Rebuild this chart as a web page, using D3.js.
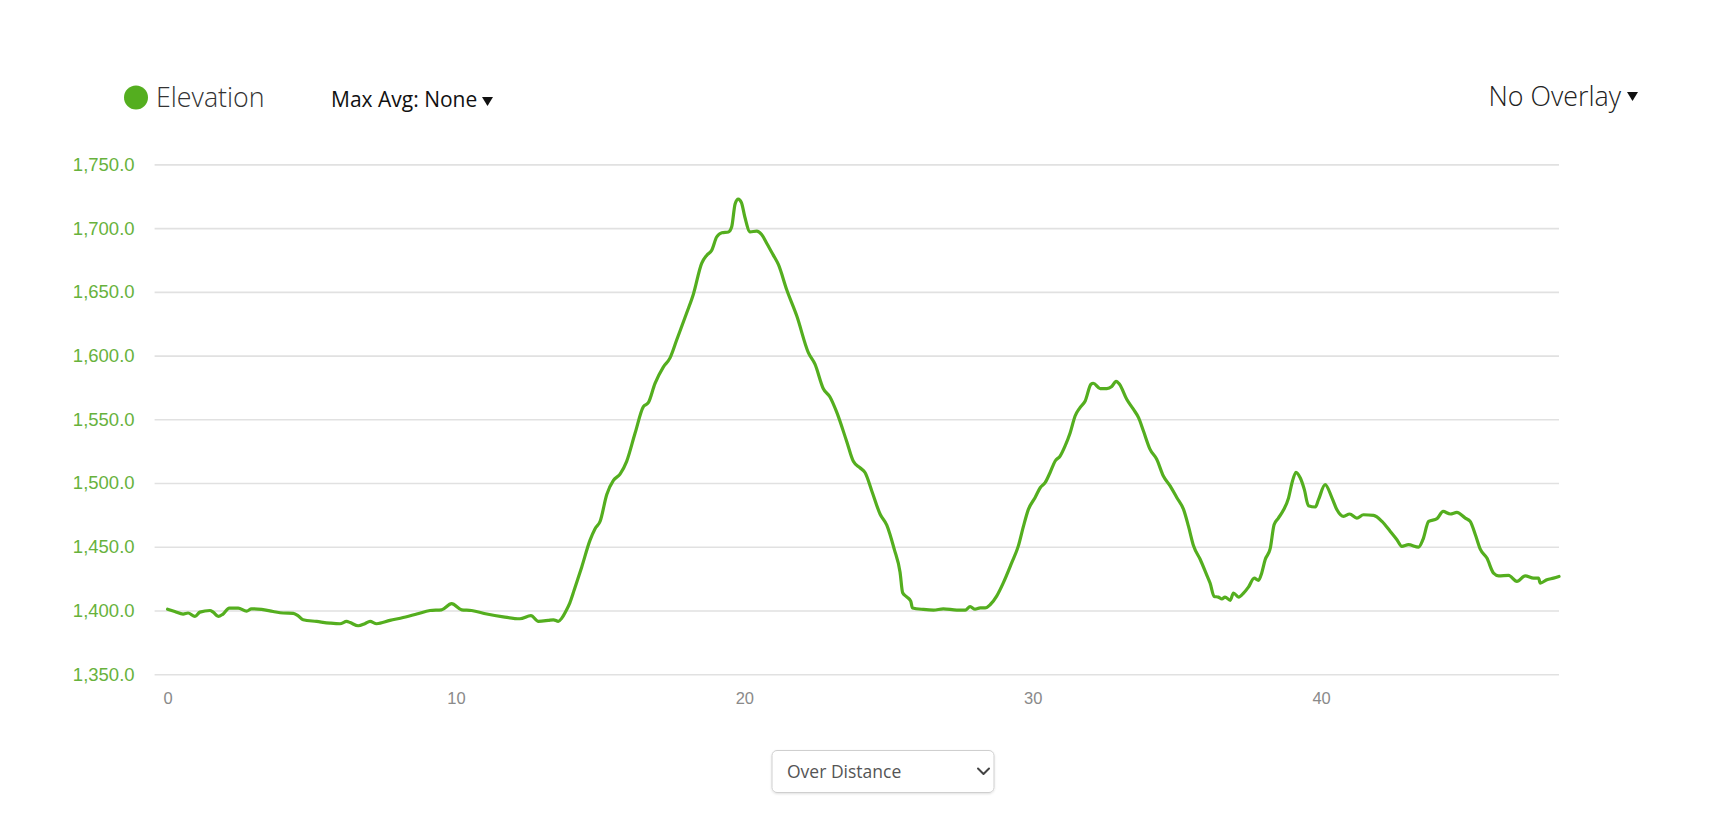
<!DOCTYPE html>
<html>
<head>
<meta charset="utf-8">
<script src="https://cdn.jsdelivr.net/npm/d3@7"></script>
<style>
  html, body { margin: 0; padding: 0; background: #fff; }
  svg { display: block; }
</style>
</head>
<body>
<svg id="chart" width="1719" height="820"></svg>
<script>
// ---- data (distance in km, elevation in m) ----
const distanceKm = [0, 0.25, 0.54, 0.71, 0.95, 1.12, 1.47, 1.58, 1.76, 1.91, 2.14, 2.45, 2.74, 2.91, 3.26, 3.66, 4.01, 4.36, 4.53, 4.7, 5.17, 5.63, 5.98, 6.21, 6.33, 6.61, 6.84, 7.02, 7.25, 7.71, 8.17, 8.64, 9.1, 9.5, 9.85, 10.2, 10.54, 11.07, 11.64, 12.22, 12.6, 12.86, 13.2, 13.38, 13.55, 13.67, 13.8, 13.95, 14.1, 14.36, 14.65, 14.82, 15.0, 15.23, 15.46, 15.69, 15.92, 16.21, 16.5, 16.67, 16.9, 17.19, 17.42, 17.66, 18.0, 18.23, 18.52, 18.7, 18.87, 19.04, 19.22, 19.45, 19.56, 19.68, 19.79, 19.9, 20.02, 20.2, 20.43, 20.6, 20.78, 21.0, 21.18, 21.47, 21.82, 22.22, 22.45, 22.74, 22.97, 23.2, 23.55, 23.78, 24.01, 24.19, 24.42, 24.71, 24.94, 25.2, 25.4, 25.49, 25.63, 25.77, 25.83, 26.21, 26.56, 26.9, 27.37, 27.66, 27.83, 28.0, 28.18, 28.35, 28.53, 28.75, 28.98, 29.27, 29.5, 29.68, 29.85, 30.08, 30.26, 30.43, 30.6, 30.78, 30.95, 31.12, 31.3, 31.47, 31.64, 31.82, 32.02, 32.1, 32.34, 32.57, 32.74, 32.89, 33.01, 33.26, 33.49, 33.67, 33.84, 34.07, 34.3, 34.53, 34.77, 35.0, 35.23, 35.4, 35.58, 35.81, 36.04, 36.15, 36.29, 36.44, 36.56, 36.67, 36.85, 36.96, 37.14, 37.31, 37.48, 37.68, 37.83, 37.94, 38.06, 38.24, 38.37, 38.52, 38.7, 38.87, 38.99, 39.13, 39.28, 39.42, 39.56, 39.8, 39.91, 40.14, 40.38, 40.55, 40.78, 40.99, 41.24, 41.47, 41.82, 42.11, 42.4, 42.63, 42.8, 43.03, 43.38, 43.53, 43.73, 44.02, 44.23, 44.48, 44.71, 45.0, 45.17, 45.35, 45.52, 45.75, 45.98, 46.16, 46.5, 46.79, 47.08, 47.37, 47.54, 47.6, 47.83, 48.06, 48.25];

const elevationM = [1401, 1399.2, 1397.2, 1398, 1395.3, 1398.7, 1400, 1398.7, 1395.3, 1397, 1401.9, 1401.9, 1399.5, 1401.3, 1400.8, 1399.2, 1398, 1397.7, 1395.8, 1392.7, 1391.4, 1390.1, 1389.6, 1391.4, 1390.5, 1388, 1389.6, 1391.4, 1389.6, 1392.2, 1394.5, 1397.2, 1400, 1400.5, 1405.3, 1400.5, 1400, 1397.2, 1395, 1393.5, 1396, 1391.5, 1392.2, 1392.7, 1391.5, 1394, 1399, 1406, 1416, 1434, 1455.2, 1464, 1470, 1491, 1502, 1507, 1517, 1539, 1560, 1563, 1578, 1591, 1598, 1612.6, 1633.4, 1648, 1672.4, 1678.8, 1682.6, 1693, 1696.4, 1697, 1700.8, 1719, 1722.8, 1720, 1708.5, 1697, 1697.7, 1695, 1688, 1679, 1671.5, 1651.6, 1631, 1602.3, 1593.3, 1574, 1567.5, 1555.8, 1532.6, 1517, 1512, 1508, 1493.8, 1475.5, 1467, 1448, 1430, 1413.9, 1410.7, 1407.3, 1402, 1400.8, 1400.3, 1401.3, 1400.3, 1400.3, 1403, 1401, 1402, 1402, 1404.7, 1411.3, 1421.7, 1437.4, 1450.5, 1466.2, 1479.3, 1488.5, 1496.3, 1500.3, 1508.1, 1517.3, 1521.2, 1529, 1539.5, 1552.6, 1559.2, 1564.4, 1577.5, 1578.3, 1574.1, 1574.1, 1575.7, 1579.8, 1577.5, 1565.7, 1557.9, 1551.3, 1540.8, 1526.4, 1518.6, 1505.5, 1497.6, 1488.5, 1479.3, 1466.2, 1450.5, 1440, 1427.5, 1421.5, 1411, 1410.5, 1409, 1410.5, 1408, 1413.7, 1410.5, 1413.6, 1418.3, 1425.4, 1423.6, 1429.3, 1439.8, 1449, 1467.3, 1472.5, 1479, 1488.2, 1500, 1508.4, 1503.9, 1494.8, 1482.2, 1481.2, 1486.9, 1498.7, 1488.2, 1479, 1473.8, 1475.7, 1472.5, 1475.1, 1474.6, 1469.9, 1462, 1455.5, 1450.3, 1451.6, 1449.7, 1455.5, 1469.9, 1472, 1477.7, 1475.7, 1477, 1472.5, 1469.9, 1459.4, 1448.2, 1441.1, 1429.3, 1427.2, 1427.5, 1422.8, 1427.2, 1425.4, 1425.4, 1421.5, 1424.1, 1425.4, 1426.7];

const yTicks = [1350, 1400, 1450, 1500, 1550, 1600, 1650, 1700, 1750];
const xTicks = [0, 10, 20, 30, 40];
const seriesName = "Elevation";
const maxAvgLabel = "Max Avg: None";
const overlayLabel = "No Overlay";
const modeLabel = "Over Distance";

// ---- styles ----
const GREEN = "#54ae1f";
const LABEL_GREEN = "#67b23c";

const svg = d3.select("#chart");

const x = d3.scaleLinear().domain([-0.45, 48.25]).range([154.6, 1559]);
const y = d3.scaleLinear().domain([1350, 1750]).range([674.2, 164.4]);

// gridlines + y labels
const yAxis = d3.axisLeft(y)
  .tickValues(yTicks)
  .tickFormat(d3.format(",.1f"))
  .tickSize(-(x.range()[1] - x.range()[0]))
  .tickPadding(20);

const gy = svg.append("g")
  .attr("transform", `translate(${x.range()[0]},0)`)
  .call(yAxis);
gy.select(".domain").remove();
gy.selectAll(".tick line").attr("stroke", "#e1e1e1").attr("stroke-width", 1.6);
gy.selectAll(".tick text")
  .attr("fill", LABEL_GREEN)
  .style("font-family", "'Liberation Sans', Arial, sans-serif")
  .style("font-size", "18.5px");

// x labels
const xAxis = d3.axisBottom(x).tickValues(xTicks).tickFormat(d3.format("d")).tickSize(0).tickPadding(0);
const gx = svg.append("g")
  .attr("transform", `translate(0,692)`)
  .call(xAxis);
gx.select(".domain").remove();
gx.selectAll(".tick text")
  .attr("fill", "#8a8a8a")
  .attr("dy", "0.71em")
  .style("font-family", "'Liberation Sans', Arial, sans-serif")
  .style("font-size", "16.5px");

// line
const pts = distanceKm.map((d, i) => [d, elevationM[i]]);
const line = d3.line().x(d => x(d[0])).y(d => y(d[1])).curve(d3.curveMonotoneX);
svg.append("path")
  .datum(pts)
  .attr("d", line)
  .attr("fill", "none")
  .attr("stroke", GREEN)
  .attr("stroke-width", 3.2)
  .attr("stroke-linejoin", "round")
  .attr("stroke-linecap", "round");

// legend
svg.append("circle").attr("cx", 136).attr("cy", 97.5).attr("r", 12).attr("fill", GREEN);
svg.append("text").attr("x", 156).attr("y", 106.5)
  .text(seriesName)
  .style("font-family", "'Open Sans', sans-serif").style("font-weight", 300)
  .style("font-size", "26.8px").attr("fill", "#333");

svg.append("text").attr("x", 331).attr("y", 107)
  .text(maxAvgLabel)
  .style("font-family", "'Open Sans', sans-serif").style("font-weight", 400)
  .style("font-size", "21px").attr("fill", "#111");
svg.append("path").attr("d", "M482,97 L493,97 L487.5,106 Z").attr("fill", "#111");

svg.append("text").attr("x", 1621).attr("y", 105.5).attr("text-anchor", "end")
  .text(overlayLabel)
  .style("font-family", "'Open Sans', sans-serif").style("font-weight", 300)
  .style("font-size", "26.8px").attr("fill", "#222");
svg.append("path").attr("d", "M1627,92 L1638,92 L1632.5,101 Z").attr("fill", "#111");

// dropdown
const defs = svg.append("defs");
const f = defs.append("filter").attr("id", "sh").attr("x", "-10%").attr("y", "-20%").attr("width", "120%").attr("height", "150%");
f.append("feDropShadow").attr("dx", 0).attr("dy", 1).attr("stdDeviation", 1.2).attr("flood-color", "#000").attr("flood-opacity", 0.12);
svg.append("rect").attr("x", 772).attr("y", 750.5).attr("width", 222).attr("height", 42).attr("rx", 5)
  .attr("fill", "#fff").attr("stroke", "#cfcfcf").attr("stroke-width", 1).attr("filter", "url(#sh)");
svg.append("text").attr("x", 787).attr("y", 778)
  .text(modeLabel)
  .style("font-family", "'Open Sans', sans-serif").style("font-size", "17.5px").attr("fill", "#555");
svg.append("path").attr("d", "M978,768.5 L983.5,774 L989,768.5")
  .attr("fill", "none").attr("stroke", "#444").attr("stroke-width", 2).attr("stroke-linecap", "round").attr("stroke-linejoin", "round");
</script>
</body>
</html>
